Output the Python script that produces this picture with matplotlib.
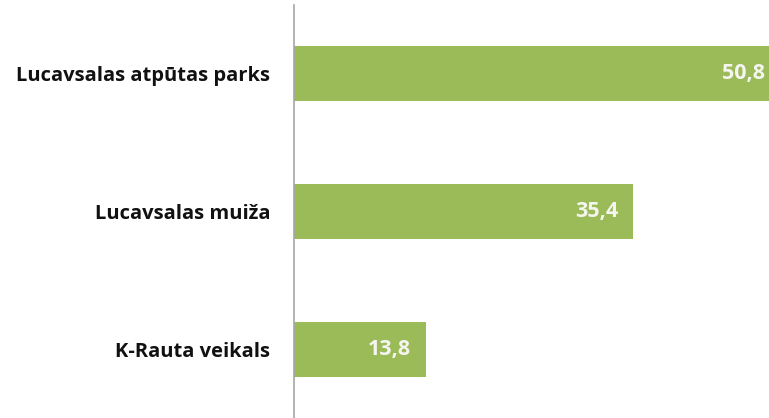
import matplotlib
matplotlib.use("Agg")
import matplotlib.pyplot as plt
from matplotlib.transforms import offset_copy

categories = ["Lucavsalas atpūtas parks", "Lucavsalas muiža", "K-Rauta veikals"]
values = [50.8, 35.4, 13.8]
value_labels = ["50,8", "35,4", "13,8"]

plt.rcParams["font.family"] = ["Open Sans", "DejaVu Sans"]

fig = plt.figure(figsize=(7.69, 4.18), dpi=100)
ax = fig.add_axes([294 / 769, 0.0, (769 - 294) / 769, 413 / 418])

y = list(range(len(categories)))
ax.barh(y, values, height=0.4, color="#9BBB59")
ax.set_ylim(len(categories) - 0.5, -0.5)
ax.set_xlim(0, 49.6)

ax.set_yticks(y)
ax.set_yticklabels(categories, fontsize=14.5, fontweight="bold", color="#111111")
ax.tick_params(axis="y", length=0, pad=17)
ax.set_xticks([])

for side in ["top", "right", "bottom"]:
    ax.spines[side].set_visible(False)
ax.spines["left"].set_color("#A6A6A6")
ax.spines["left"].set_linewidth(1.2)

trans = offset_copy(ax.transData, fig=fig, x=-15, y=0, units="dots")
for yi, v, lab in zip(y, values, value_labels):
    ax.text(v, yi, lab, transform=trans, ha="right", va="center",
            fontsize=15.5, fontweight="bold", color="#F5F5F0", clip_on=False)

fig.savefig("out.png", dpi=100)
